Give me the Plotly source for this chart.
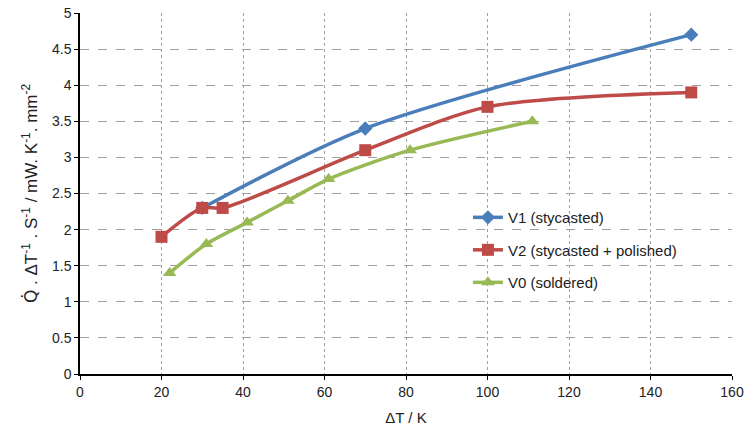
import plotly.graph_objects as go

v1_x = [30, 70, 150]
v1_y = [2.3, 3.4, 4.7]
v2_x = [20, 30, 35, 70, 100, 150]
v2_y = [1.9, 2.3, 2.3, 3.1, 3.7, 3.9]
v0_x = [22, 31, 41, 51, 61, 81, 111]
v0_y = [1.4, 1.8, 2.1, 2.4, 2.7, 3.1, 3.5]

names = ["V1 (stycasted)", "V2 (stycasted + polished)", "V0 (soldered)"]
colors = ["#4A7EBB", "#BE4B48", "#98B954"]
symbols = ["diamond", "square", "triangle-up"]
sizes = [11, 12, 12]

fig = go.Figure()
for i, (xs, ys) in enumerate([(v1_x, v1_y), (v2_x, v2_y), (v0_x, v0_y)]):
    fig.add_trace(go.Scatter(
        x=xs, y=ys, name=names[i], mode="lines+markers",
        line=dict(color=colors[i], width=3.5, shape="spline", smoothing=0.8),
        marker=dict(symbol=symbols[i], size=sizes[i], color=colors[i]),
        legendgroup=str(i),
    ))

fig.add_shape(type="rect", xref="paper", yref="paper",
              x0=0.561, x1=0.9555, y0=0.213, y1=0.49,
              fillcolor="white", line=dict(width=0), layer="below")

font = "Liberation Sans, Arial, sans-serif"
ytitle = ('<span style="font-family:DejaVu Sans">Q̇</span> . ΔT<sup>-1</sup> . S<sup>-1</sup>'
          ' / mW. K<sup>-1</sup>. mm<sup>-2</sup>')
fig.update_layout(
    width=744, height=432,
    margin=dict(l=80, r=12, t=13, b=58),
    paper_bgcolor="white", plot_bgcolor="white",
    font=dict(family=font, size=14, color="#222"),
    showlegend=True,
    legend=dict(x=0.595, y=0.479, xanchor="left", yanchor="top",
                bgcolor="rgba(0,0,0,0)", traceorder="grouped",
                tracegroupgap=10, font=dict(size=15, color="#222")),
    xaxis=dict(range=[0, 160], dtick=20, showgrid=True, automargin=False,
               gridcolor="#a0a0a0", griddash="dot", gridwidth=1,
               showline=True, linecolor="black", linewidth=1.5,
               ticks="outside", ticklen=4, tickcolor="black",
               zeroline=False, tickfont=dict(size=14),
               title=dict(text="ΔT / K", font=dict(size=15), standoff=14)),
    yaxis=dict(range=[0, 5], dtick=0.5, showgrid=True, automargin=False,
               gridcolor="#a0a0a0", griddash="dash", gridwidth=1,
               showline=True, linecolor="black", linewidth=1.5,
               ticks="outside", ticklen=4, tickcolor="black",
               zeroline=False, tickfont=dict(size=14),
               title=dict(text=ytitle, font=dict(size=17), standoff=10)),
)

fig.write_html("out.html")
